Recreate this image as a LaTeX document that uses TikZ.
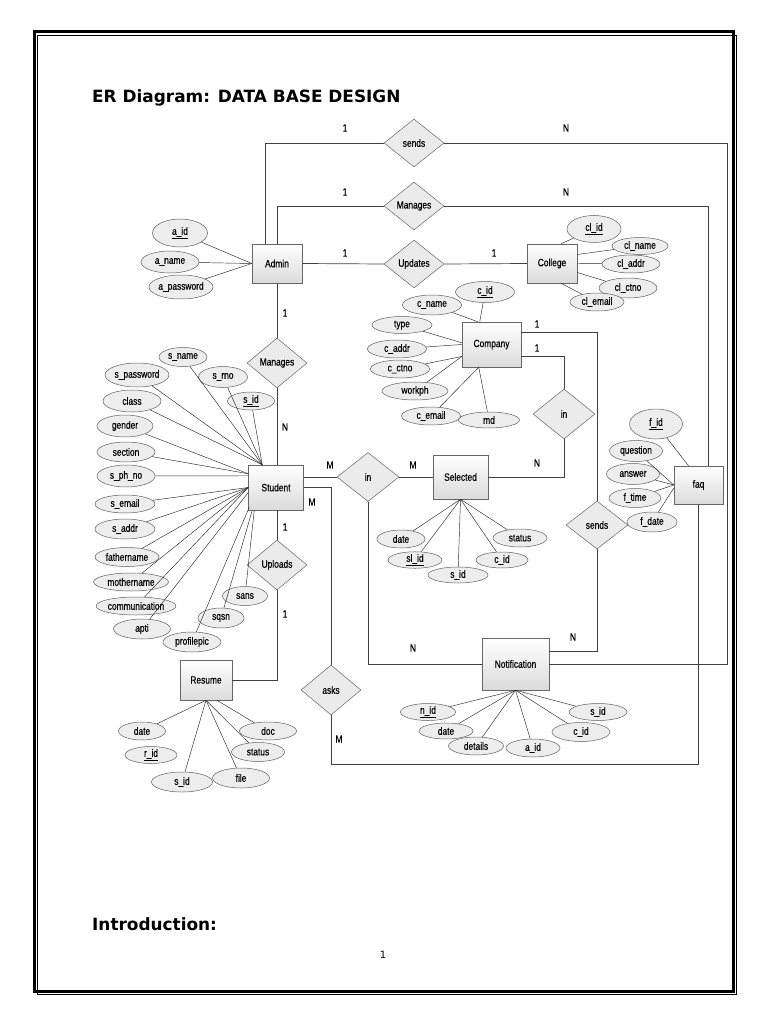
\documentclass[tikz,border=0pt]{standalone}
\usepackage{fontspec}
\newfontfamily\narf[FakeStretch=0.8,FakeBold=0.35]{Liberation Sans}
\newfontfamily\ttlf{DejaVu Sans}
\usetikzlibrary{shapes.geometric}
\newcommand\labf{\narf\fontsize{10.5}{12}\selectfont}
\begin{document}
\begin{tikzpicture}[x=1pt,y=-1pt,
  ent/.style={draw=gray!80!black, line width=0.5pt, top color=white, bottom color=gray!28, inner sep=0, font=\labf},
  rel/.style={diamond, draw=gray!80!black, line width=0.5pt, fill=gray!16, inner sep=0, font=\labf, minimum width=60pt, minimum height=48pt},
  att/.style={ellipse, draw=gray!75!black, line width=0.5pt, fill=gray!14, inner sep=0, font=\labf},
  con/.style={draw=black!75, line width=0.7pt},
  aln/.style={draw=black!85, line width=0.45pt},
  card/.style={font=\labf, inner sep=0},
  hd/.style={font=\ttlf\bfseries\fontsize{16.9}{20}\selectfont, inner sep=0, anchor=base west}]
\useasboundingbox (0,0) rectangle (768,1024);
% page frame
\draw[line width=3pt] (34,32) rectangle (733,991);
\draw[line width=0.6pt] (37.5,35.5) rectangle (736.5,994.5);
\node[hd] (title) at (92,103) {ER Diagram: DATA BASE DESIGN};
\node[hd] (intro) at (92,930) {Introduction:};
\node[font=\ttlf\fontsize{10}{12}\selectfont, inner sep=0] (pg) at (383,955) {1};

% entities
\node[ent, minimum width=50pt, minimum height=39pt] (admin) at (277,263.5) {Admin};
\node[ent, minimum width=50pt, minimum height=39pt] (college) at (552,263.5) {College};
\node[ent, minimum width=59pt, minimum height=45pt] (company) at (491.5,344.5) {Company};
\node[ent, minimum width=55pt, minimum height=45pt] (student) at (276,487.5) {Student};
\node[ent, minimum width=55pt, minimum height=44pt] (selected) at (460.5,477) {Selected};
\node[ent, minimum width=49pt, minimum height=38pt] (faq) at (698.5,485) {faq};
\node[ent, minimum width=67pt, minimum height=52pt] (notif) at (515.5,664) {Notification};
\node[ent, minimum width=52pt, minimum height=40pt] (resume) at (206,680) {Resume};

% relationships
\node[rel] (sendsTop) at (414,143) {sends};
\node[rel] (managesTop) at (414,206) {Manages};
\node[rel] (updates) at (414,264) {Updates};
\node[rel, minimum height=50pt] (managesAS) at (277,363) {Manages};
\node[rel, minimum width=62pt, minimum height=49pt] (inSS) at (368,477) {in};
\node[rel, minimum width=62pt, minimum height=50pt] (inCS) at (564,414) {in};
\node[rel, minimum width=62pt] (sendsR) at (597,525) {sends};
\node[rel, minimum height=50pt] (uploads) at (277,565) {Uploads};
\node[rel, minimum height=50pt] (asks) at (331,690) {asks};

% connectors
\draw[con] (sendsTop.west) -| ([xshift=14pt]admin.north west);
\draw[con] (sendsTop.east) -| ([xshift=178pt]notif.east) -- (notif.east);
\draw[con] (managesTop.west) -| (admin.north);
\draw[con] (managesTop.east) -| ([xshift=10pt]faq.north);
\draw[con] (admin.east) -- (updates.west);
\draw[con] (updates.east) -- (college.west);
\draw[con] (admin.south) -- (managesAS.north);
\draw[con] (managesAS.south) -- (managesAS.south |- student.north);
\draw[con] ([yshift=-11pt]company.north east) -| (sendsR.north);
\draw[con] (sendsR.south) |- ([yshift=13pt]notif.east);
\draw[con] ([yshift=11pt]company.south east) -| (inCS.north);
\draw[con] (inCS.south) |- (selected.east);
\draw[con] (inSS.west -| student.east) -- (inSS.west);
\draw[con] (inSS.east) -- (selected.west);
\draw[con] (inSS.south) |- (notif.west);
\draw[con] (student.east) -| (asks.north);
\draw[con] (asks.south) |- ([yshift=-260pt]faq.south) -- (faq.south);
\draw[con] (student.south -| uploads.north) -- (uploads.north);
\draw[con] (uploads.south) |- (resume.east);

% cardinalities
\node[card] (c1) at (345,128) {1};
\node[card] (c2) at (566,128) {N};
\node[card] (c3) at (345,192) {1};
\node[card] (c4) at (566,192) {N};
\node[card] (c5) at (345,253) {1};
\node[card] (c6) at (494,253) {1};
\node[card] (c7) at (285,313) {1};
\node[card] (c8) at (285,427) {N};
\node[card] (c9) at (330,465) {M};
\node[card] (c10) at (413,465) {M};
\node[card] (c11) at (537,463) {N};
\node[card] (c12) at (537,324) {1};
\node[card] (c13) at (537,348) {1};
\node[card] (c14) at (312,502) {M};
\node[card] (c15) at (285,527) {1};
\node[card] (c16) at (285,614) {1};
\node[card] (c17) at (413,648) {N};
\node[card] (c18) at (573,637) {N};
\node[card] (c19) at (339,739) {M};

% Admin attributes
\node[att, minimum width=55pt, minimum height=28pt] (aid) at (180,233) {\underline{a\_id}};
\node[att, minimum width=58pt, minimum height=22pt] (aname) at (170,262) {a\_name};
\node[att, minimum width=64pt, minimum height=24pt] (apass) at (181,287) {a\_password};
\foreach \a in {aid,aname,apass} \draw[aln] (\a) -- (admin.west);

% College attributes
\node[att, minimum width=54pt, minimum height=27pt] (clid) at (594,229) {\underline{cl\_id}};
\node[att, minimum width=56pt, minimum height=17pt] (clname) at (640,246) {cl\_name};
\node[att, minimum width=58pt, minimum height=18pt] (claddr) at (631,264) {cl\_addr};
\node[att, minimum width=58pt, minimum height=20pt] (clctno) at (628,288) {cl\_ctno};
\node[att, minimum width=54pt, minimum height=18pt] (clemail) at (597,302) {cl\_email};
\draw[aln] (clid) -- ([xshift=9pt]college.north);
\draw[aln] (clname) -- ([yshift=9pt]college.east);
\draw[aln] (claddr) -- (college.east);
\draw[aln] (clctno) -- ([yshift=-9pt]college.east);
\draw[aln] (clemail) -- ([xshift=9pt]college.south);

% Company attributes
\node[att, minimum width=59pt, minimum height=21pt] (cid) at (485,292) {\underline{c\_id}};
\node[att, minimum width=59pt, minimum height=20pt] (cname) at (432,305) {c\_name};
\node[att, minimum width=60pt, minimum height=17pt] (type) at (402,325) {type};
\node[att, minimum width=59pt, minimum height=18pt] (caddr) at (397,349) {c\_addr};
\node[att, minimum width=59pt, minimum height=18pt] (cctno) at (400,369) {c\_ctno};
\node[att, minimum width=66pt, minimum height=18pt] (workph) at (415,391) {workph};
\node[att, minimum width=59pt, minimum height=18pt] (cemail) at (431,416) {c\_email};
\node[att, minimum width=61pt, minimum height=16pt] (md) at (489,420) {md};
\draw[aln] (cname) -- ([xshift=16pt]company.north west);
\draw[aln] (cid) -- ([xshift=18pt]company.north west);
\draw[aln] (type) -- ([yshift=-21pt]company.north west);
\draw[aln] (caddr) -- (company.west);
\draw[aln] (cctno) -- ([yshift=-12pt]company.west);
\draw[aln] (workph) -- ([yshift=-12pt]company.west);
\draw[aln] (cemail) -- ([xshift=17pt]company.south west);
\draw[aln] (md) -- ([xshift=17pt]company.south west);

% Student attributes
\node[att, minimum width=48pt, minimum height=19pt] (sname) at (183,357) {s\_name};
\node[att, minimum width=64pt, minimum height=24pt] (spass) at (137,375) {s\_password};
\node[att, minimum width=49pt, minimum height=21pt] (srno) at (223,377) {s\_rno};
\node[att, minimum width=58pt, minimum height=22pt] (class) at (132,401) {class};
\node[att, minimum width=47pt, minimum height=18pt] (sid) at (251,401) {\underline{s\_id}};
\node[att, minimum width=56pt, minimum height=22pt] (gender) at (125,426) {gender};
\node[att, minimum width=58pt, minimum height=20pt] (section) at (126,452) {section};
\node[att, minimum width=58pt, minimum height=22pt] (sph) at (126,476) {s\_ph\_no};
\node[att, minimum width=60pt, minimum height=18pt] (semail) at (125,504) {s\_email};
\node[att, minimum width=60pt, minimum height=20pt] (saddr) at (125,529) {s\_addr};
\node[att, minimum width=64pt, minimum height=19pt] (father) at (127,557) {fathername};
\node[att, minimum width=75pt, minimum height=18pt] (mother) at (131,582) {mothername};
\node[att, minimum width=78pt, minimum height=18pt] (comm) at (136,606) {communication};
\node[att, minimum width=57pt, minimum height=20pt] (apti) at (142,629) {apti};
\node[att, minimum width=58pt, minimum height=20pt] (profile) at (192,642) {profilepic};
\node[att, minimum width=46pt, minimum height=20pt] (sqsn) at (221,618) {sqsn};
\node[att, minimum width=45pt, minimum height=19pt] (sans) at (245,596) {sans};
\foreach \a in {sname,spass,srno,class,sid} \draw[aln] (\a) -- ([xshift=14pt]student.north west);
\foreach \a in {gender,section} \draw[aln] (\a) -- ([yshift=-9pt]student.north west);
\draw[aln] (sph) -- ([yshift=-11pt]student.north west);
\foreach \a in {semail,saddr,father,mother,comm} \draw[aln] (\a) -- (student.west);
\draw[aln] (apti) -- ([yshift=-5pt]student.west);
\draw[aln] (profile) -- ([xshift=1pt,yshift=3pt]student.south west);
\draw[aln] (sqsn) -- ([xshift=4pt]student.south west);
\draw[aln] (sans) -- ([xshift=6pt]student.south west);

% Selected attributes
\node[att, minimum width=48pt, minimum height=18pt] (sdate) at (401,539) {date};
\node[att, minimum width=54pt, minimum height=16pt] (slid) at (415,560) {\underline{sl\_id}};
\node[att, minimum width=60pt, minimum height=16pt] (selsid) at (458,575) {s\_id};
\node[att, minimum width=52pt, minimum height=16pt] (selcid) at (502,560) {c\_id};
\node[att, minimum width=54pt, minimum height=18pt] (status) at (520,538) {status};
\foreach \a in {sdate,slid,selsid,selcid,status} \draw[aln] (\a) -- (selected.south);

% faq attributes
\node[att, minimum width=53pt, minimum height=30pt] (fid) at (656,424) {\underline{f\_id}};
\node[att, minimum width=53pt, minimum height=21pt] (question) at (636,451) {question};
\node[att, minimum width=53pt, minimum height=21pt] (answer) at (633,474) {answer};
\node[att, minimum width=52pt, minimum height=19pt] (ftime) at (635,498) {f\_time};
\node[att, minimum width=50pt, minimum height=20pt] (fdate) at (652,522) {f\_date};
\draw[aln] (fid) -- ([xshift=-10pt]faq.north);
\foreach \a in {question,answer,ftime} \draw[aln] (\a) -- (faq.west);
\draw[aln] (fdate) -- ([yshift=-3pt]faq.west);

% Notification attributes
\node[att, minimum width=55pt, minimum height=17pt] (nid) at (428,712) {\underline{n\_id}};
\node[att, minimum width=54pt, minimum height=16pt] (ndate) at (446,731) {date};
\node[att, minimum width=55pt, minimum height=18pt] (details) at (476,746) {details};
\node[att, minimum width=54pt, minimum height=18pt] (naid) at (533,748) {a\_id};
\node[att, minimum width=58pt, minimum height=19pt] (ncid) at (581,732) {c\_id};
\node[att, minimum width=58pt, minimum height=17pt] (nsid) at (598,712) {s\_id};
\foreach \a in {nid,ndate,details,naid,ncid,nsid} \draw[aln] (\a) -- (notif.south);

% Resume attributes
\node[att, minimum width=47pt, minimum height=18pt] (rdate) at (142,731) {date};
\node[att, minimum width=52pt, minimum height=17pt] (rid) at (151,755) {\underline{r\_id}};
\node[att, minimum width=61pt, minimum height=20pt] (rsid) at (182,782) {s\_id};
\node[att, minimum width=57pt, minimum height=20pt] (file) at (241,778) {file};
\node[att, minimum width=53pt, minimum height=19pt] (rstatus) at (258,752) {status};
\node[att, minimum width=57pt, minimum height=18pt] (doc) at (268,731) {doc};
\foreach \a in {rdate,rsid,file,rstatus} \draw[aln] (\a) -- (resume.south);
\draw[aln] (doc) -- ([xshift=11pt]resume.south);
\end{tikzpicture}
\end{document}
